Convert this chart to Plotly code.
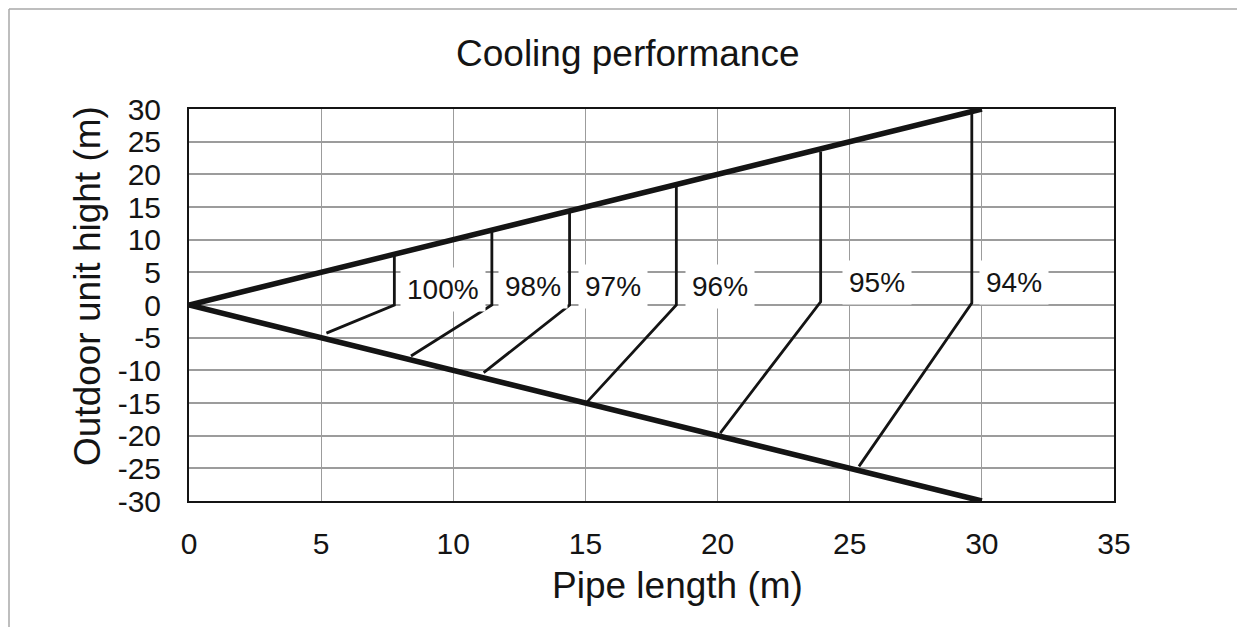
import plotly.graph_objects as go

# ---- data ----
boundary_x = [0, 30]
upper_y = [0, 30]
lower_y = [0, -30]

labels = ["100%", "98%", "97%", "96%", "95%", "94%"]
vert_x = [7.77, 11.46, 14.4, 18.44, 23.9, 29.62]
vert_top = [7.6, 11.2, 14.2, 18.2, 23.5, 29.6]
vert_bottom = [0, 0, 0, 0, 0.5, 0.3]
diag_end_x = [5.2, 8.4, 11.15, 15.05, 20.1, 25.35]
diag_end_y = [-4.3, -7.8, -10.35, -14.9, -19.6, -24.7]
label_x = [9.61, 13.02, 16.06, 20.11, 26.02, 31.21]
label_y = [2.4, 2.8, 2.8, 2.9, 3.4, 3.4]

x_ticks = [0, 5, 10, 15, 20, 25, 30, 35]
y_ticks = [30, 25, 20, 15, 10, 5, 0, -5, -10, -15, -20, -25, -30]

FONT = "Liberation Sans, Arial, sans-serif"
INK = "#141414"

fig = go.Figure()

for yy in (upper_y, lower_y):
    fig.add_trace(go.Scatter(x=boundary_x, y=yy, mode="lines",
                             line=dict(color=INK, width=5.5),
                             showlegend=False, hoverinfo="skip"))

for i in range(len(labels)):
    fig.add_trace(go.Scatter(
        x=[vert_x[i], vert_x[i], diag_end_x[i]],
        y=[vert_top[i], vert_bottom[i], diag_end_y[i]],
        mode="lines", line=dict(color=INK, width=2.8),
        showlegend=False, hoverinfo="skip"))

annotations = []
for i, t in enumerate(labels):
    annotations.append(dict(x=label_x[i], y=label_y[i], xref="x", yref="y",
                            text=t, showarrow=False, bgcolor="white",
                            borderpad=6,
                            font=dict(family=FONT, size=28, color=INK)))

# layout geometry: page is 1245x635, body margin 8px -> figure 1229x619
OFF = 8
W, H = 1229, 619
L, T = 189 - OFF, 109 - OFF
R = W - (1114 - OFF)
B = H - (501 - OFF)
pw, ph = W - L - R, H - T - B


def px(x_page):
    return (x_page - OFF - L) / pw


def py(y_page):
    return (H - B - (y_page - OFF)) / ph


annotations.append(dict(x=px(627.5), y=py(53), xref="paper", yref="paper",
                        text="Cooling performance", showarrow=False,
                        xanchor="center", yanchor="middle",
                        font=dict(family=FONT, size=37, color=INK)))
annotations.append(dict(x=px(677), y=py(585), xref="paper", yref="paper",
                        text="Pipe length (m)", showarrow=False,
                        xanchor="center", yanchor="middle",
                        font=dict(family=FONT, size=37, color=INK)))
annotations.append(dict(x=px(87), y=py(286), xref="paper", yref="paper",
                        text="Outdoor unit hight (m)", showarrow=False,
                        textangle=-90, xanchor="center", yanchor="middle",
                        font=dict(family=FONT, size=37, color=INK)))

shapes = [
    dict(type="line", xref="paper", yref="paper", x0=px(9), x1=px(9),
         y0=py(9), y1=py(700), line=dict(color="#a8a8a8", width=1.5)),
    dict(type="line", xref="paper", yref="paper", x0=px(9), x1=px(1300),
         y0=py(9), y1=py(9), line=dict(color="#a8a8a8", width=1.5)),
]

fig.update_layout(
    width=W, height=H, autosize=False,
    margin=dict(l=L, r=R, t=T, b=B),
    paper_bgcolor="white", plot_bgcolor="white",
    annotations=annotations, shapes=shapes,
    font=dict(family=FONT, color=INK),
    showlegend=False,
)
fig.update_xaxes(range=[0, 35], tickvals=x_ticks,
                 ticktext=[str(v) for v in x_ticks],
                 showgrid=True, gridcolor="#9c9c9c", gridwidth=1.2,
                 zeroline=False, showline=True, mirror=True,
                 linecolor=INK, linewidth=2, ticks="",
                 ticklabelstandoff=15,
                 tickfont=dict(family=FONT, size=30, color=INK))
fig.update_yaxes(range=[-30, 30], tickvals=y_ticks,
                 ticktext=[str(v) for v in y_ticks],
                 showgrid=True, gridcolor="#9c9c9c", gridwidth=1.5,
                 zeroline=False, showline=True, mirror=True,
                 linecolor=INK, linewidth=2, ticks="",
                 ticklabelstandoff=20,
                 tickfont=dict(family=FONT, size=30, color=INK))

fig.write_html("out.html")
